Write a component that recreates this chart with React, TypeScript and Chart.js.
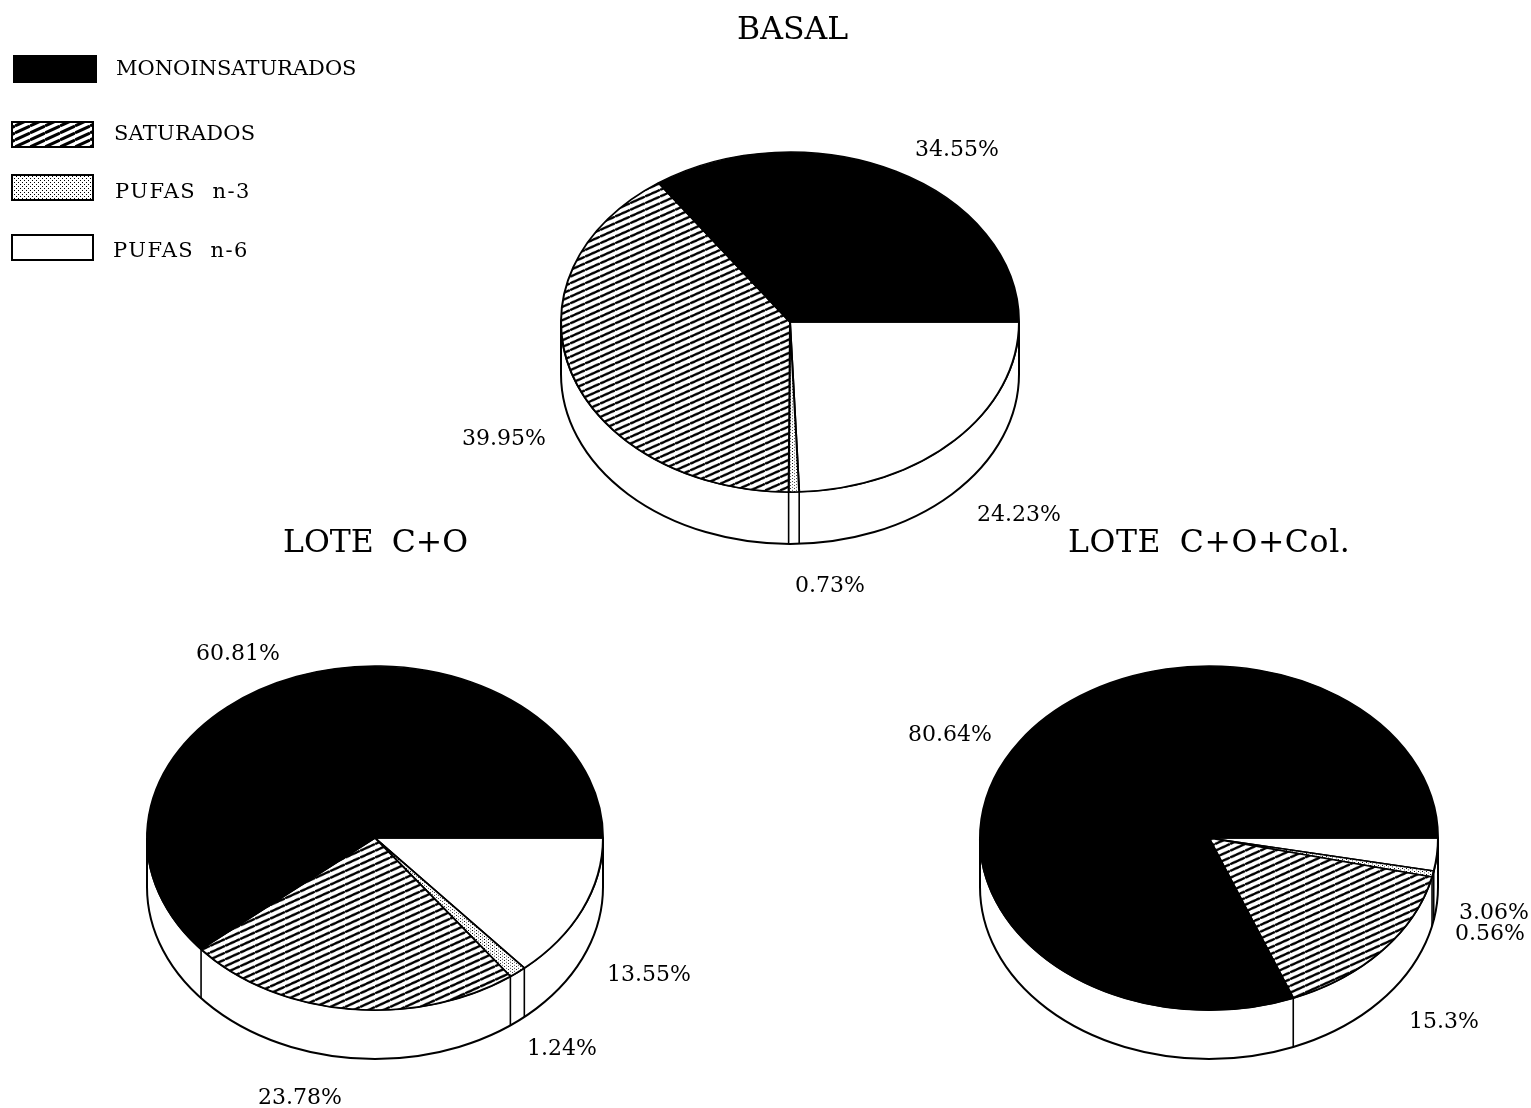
import React, { useEffect, useRef } from "react";
import { Chart, registerables } from "chart.js";

Chart.register(...registerables);

const categories = ["MONOINSATURADOS", "SATURADOS", "PUFAS n-3", "PUFAS n-6"];
const basalValues = [34.55, 39.95, 0.73, 24.23];
const loteCOValues = [60.81, 23.78, 1.24, 13.55];
const loteCOColValues = [80.64, 15.3, 0.56, 3.06];
const chartTitles = ["BASAL", "LOTE C+O", "LOTE C+O+Col."];

const PAGE_W = 1531;
const PAGE_H = 1108;
const SERIF = '"DejaVu Serif", serif';

type P = [number, number];
const pies = [
  {
    title: chartTitles[0], values: basalValues, cx: 790, cy: 322, rx: 229, ry: 170, depth: 52,
    titlePos: [737, 39] as P,
    labelPos: [[915, 156], [462, 445], [795, 592], [977, 521]] as P[],
  },
  {
    title: chartTitles[1], values: loteCOValues, cx: 375, cy: 838, rx: 228, ry: 172, depth: 49,
    titlePos: [283, 552] as P,
    labelPos: [[196, 660], [258, 1104], [527, 1055], [607, 981]] as P[],
  },
  {
    title: chartTitles[2], values: loteCOColValues, cx: 1209, cy: 838, rx: 229, ry: 172, depth: 49,
    titlePos: [1068, 552] as P,
    labelPos: [[908, 741], [1409, 1028], [1455, 940], [1459, 919]] as P[],
  },
];

const legendBoxes = [
  { x: 14, y: 56, w: 82, h: 26, tx: 116, ty: 75, spacing: 0, word: 0 },
  { x: 12, y: 122, w: 81, h: 25, tx: 114, ty: 140, spacing: 0.2, word: 0 },
  { x: 12, y: 175, w: 81, h: 25, tx: 115, ty: 198, spacing: 1.5, word: 8 },
  { x: 12, y: 235, w: 81, h: 25, tx: 113, ty: 257, spacing: 1.5, word: 8 },
];

function hatch(ctx: CanvasRenderingContext2D, h: number) {
  const c = document.createElement("canvas");
  const w = 15;
  c.width = w;
  c.height = h;
  const g = c.getContext("2d")!;
  g.fillStyle = "#fff";
  g.fillRect(0, 0, w, h);
  g.strokeStyle = "#000";
  g.lineWidth = 3;
  for (let i = -1; i <= 1; i++) {
    g.beginPath();
    g.moveTo(0, h + i * h);
    g.lineTo(w, i * h);
    g.stroke();
  }
  return ctx.createPattern(c, "repeat")!;
}

function stipple(ctx: CanvasRenderingContext2D) {
  const c = document.createElement("canvas");
  c.width = 4;
  c.height = 4;
  const g = c.getContext("2d")!;
  g.fillStyle = "#fff";
  g.fillRect(0, 0, 4, 4);
  g.fillStyle = "#000";
  g.fillRect(0, 0, 1, 1);
  g.fillRect(2, 2, 1, 1);
  return ctx.createPattern(c, "repeat")!;
}

function fills(ctx: CanvasRenderingContext2D, h: number) {
  return ["#000", hatch(ctx, h), stipple(ctx), "#fff"];
}

function makePlugin(pie: (typeof pies)[number], withLegend: boolean) {
  const k = pie.ry / pie.rx;
  return {
    id: "pie3d",
    beforeDatasetsDraw(chart: any) {
      const ctx: CanvasRenderingContext2D = chart.ctx;
      const arcs = chart.getDatasetMeta(0).data;
      const { x: cx, y: cy, outerRadius: R } = arcs[0];
      const ry = R * k;
      ctx.save();
      ctx.beginPath();
      ctx.ellipse(cx, cy, R, ry, 0, 0, Math.PI);
      ctx.ellipse(cx, cy + pie.depth, R, ry, 0, Math.PI, 0, true);
      ctx.closePath();
      ctx.fillStyle = "#fff";
      ctx.fill();
      ctx.strokeStyle = "#000";
      ctx.lineWidth = 2;
      ctx.stroke();
      ctx.lineWidth = 1.6;
      for (const arc of arcs) {
        const a = arc.endAngle % (2 * Math.PI);
        if (a > 0 && a < Math.PI) {
          const x = cx + R * Math.cos(a);
          const y = cy + ry * Math.sin(a);
          ctx.beginPath();
          ctx.moveTo(x, y);
          ctx.lineTo(x, y + pie.depth);
          ctx.stroke();
        }
      }
      ctx.restore();
      ctx.save();
      ctx.translate(cx, cy);
      ctx.scale(1, k);
      ctx.translate(-cx, -cy);
    },
    afterDatasetsDraw(chart: any) {
      const ctx: any = chart.ctx;
      ctx.restore();
      ctx.save();
      ctx.fillStyle = "#000";
      ctx.textBaseline = "alphabetic";
      ctx.textAlign = "left";
      ctx.font = `31.5px ${SERIF}`;
      ctx.wordSpacing = "8px";
      ctx.letterSpacing = pie.title.length > 10 ? "0.6px" : "0px";
      ctx.fillText(pie.title, pie.titlePos[0], pie.titlePos[1]);
      ctx.wordSpacing = "0px";
      ctx.letterSpacing = "0px";
      ctx.font = `22px ${SERIF}`;
      pie.values.forEach((v, i) => {
        ctx.fillText(`${v}%`, pie.labelPos[i][0], pie.labelPos[i][1]);
      });
      if (withLegend) {
        const f = fills(ctx, 7);
        legendBoxes.forEach((b, i) => {
          ctx.fillStyle = f[i];
          ctx.fillRect(b.x, b.y, b.w, b.h);
          ctx.strokeStyle = "#000";
          ctx.lineWidth = 2;
          ctx.strokeRect(b.x, b.y, b.w, b.h);
          ctx.fillStyle = "#000";
          ctx.font = `21px ${SERIF}`;
          ctx.letterSpacing = `${b.spacing}px`;
          ctx.wordSpacing = `${b.word}px`;
          ctx.fillText(categories[i], b.tx, b.ty);
        });
      }
      ctx.restore();
    },
  };
}

export default function App() {
  const refs = useRef<(HTMLCanvasElement | null)[]>([]);

  useEffect(() => {
    const charts = pies.map((pie, idx) => {
      const canvas = refs.current[idx]!;
      const ctx = canvas.getContext("2d")!;
      const k = pie.ry / pie.rx;
      const f = fills(ctx, Math.round(7 / k));
      const R = pie.rx + 1;
      // The arcs run clockwise from east in Chart.js; the reference runs anticlockwise.
      const order = [3, 2, 1, 0];
      return new Chart(canvas, {
        type: "pie",
        data: {
          labels: order.map((i) => categories[i]),
          datasets: [
            {
              data: order.map((i) => pie.values[i]),
              backgroundColor: order.map((i) => f[i]) as any,
              borderColor: "#000",
              borderWidth: 2,
              clip: false as any,
            },
          ],
        },
        options: {
          responsive: false,
          animation: false,
          events: [],
          rotation: 90,
          layout: {
            padding: {
              left: pie.cx - R,
              right: PAGE_W - pie.cx - R,
              top: pie.cy - R,
              bottom: PAGE_H - pie.cy - R,
            },
          },
          plugins: { legend: { display: false }, tooltip: { enabled: false }, title: { display: false } },
        },
        plugins: [makePlugin(pie, idx === 0)],
      });
    });
    return () => charts.forEach((c) => c.destroy());
  }, []);

  return (
    <div style={{ position: "absolute", left: 0, top: 0, width: PAGE_W, height: PAGE_H, overflow: "hidden", background: "#fff" }}>
      {pies.map((p, i) => (
        <canvas
          key={p.title}
          ref={(el) => {
            refs.current[i] = el;
          }}
          width={PAGE_W}
          height={PAGE_H}
          style={{ position: "absolute", left: 0, top: 0, width: PAGE_W, height: PAGE_H }}
        />
      ))}
    </div>
  );
}
